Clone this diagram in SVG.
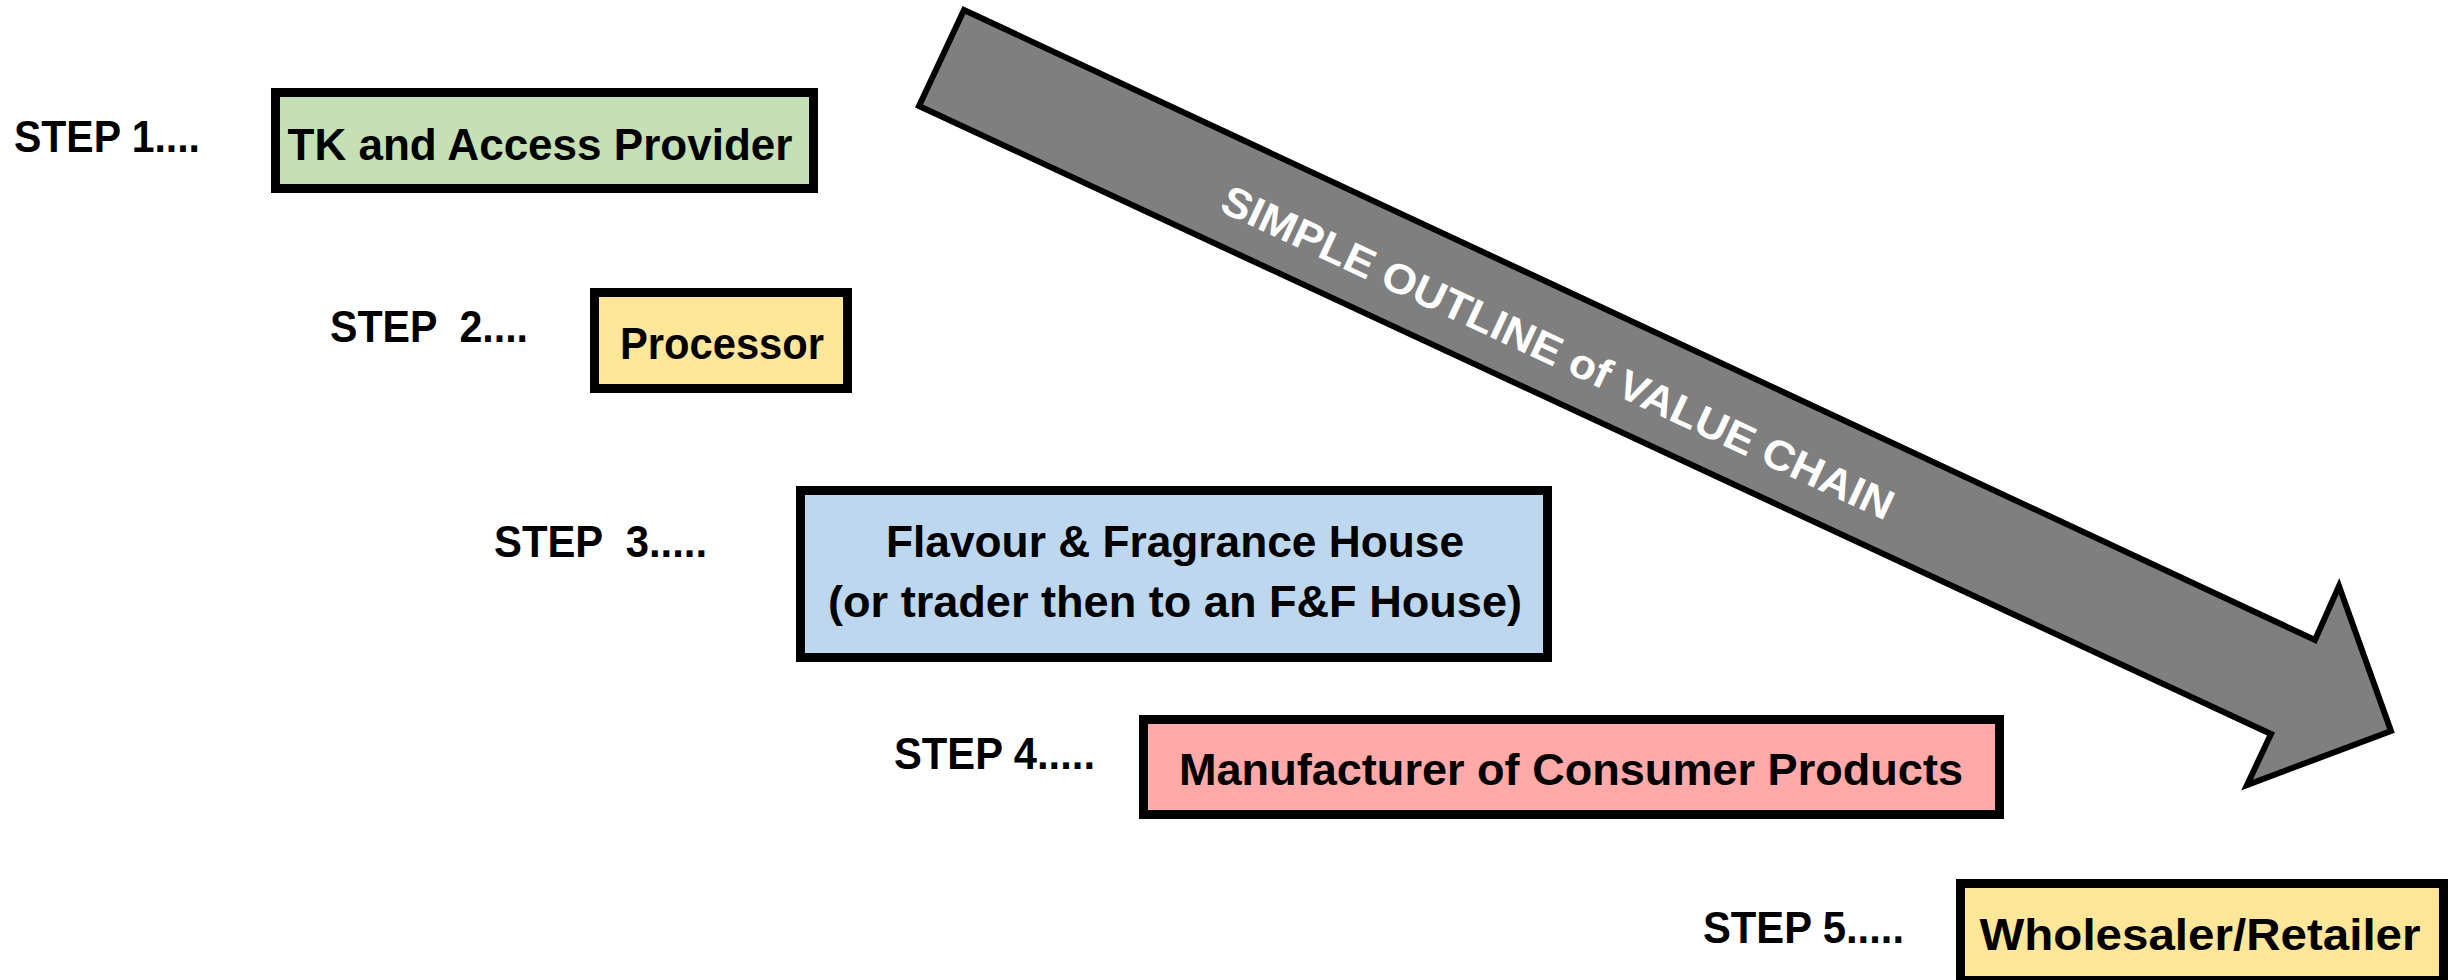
<svg xmlns="http://www.w3.org/2000/svg" width="2451" height="980" viewBox="0 0 2451 980">
  <style>
    .box { stroke: #000000; stroke-width: 9; }
    .lbl { font-family: "Liberation Sans", Arial, sans-serif; font-weight: bold; font-size: 44px; fill: #000000; }
    .step { white-space: pre; }
    .mid { text-anchor: middle; }
    .chain { font-family: "Liberation Sans", Arial, sans-serif; font-weight: bold; font-size: 42px; fill: #ffffff; text-anchor: middle; }
  </style>
  <rect x="0" y="0" width="2451" height="980" fill="#ffffff"/>

  <!-- big diagonal block arrow -->
  <g id="value-chain-arrow">
    <polygon points="964,10 2315,640 2339,586 2391,731 2247,785 2271,734 919,106" fill="#7f7f7f" stroke="#000000" stroke-width="6" stroke-linejoin="miter"/>
    <g transform="translate(1558,352) rotate(24.94)">
      <text class="chain" x="0" y="15" textLength="736" lengthAdjust="spacingAndGlyphs">SIMPLE OUTLINE of VALUE CHAIN</text>
    </g>
  </g>

  <g id="connectors"></g>

  <g id="step1">
    <text class="lbl step" x="14" y="152" textLength="186" lengthAdjust="spacingAndGlyphs">STEP 1....</text>
    <rect class="box" x="275.5" y="92.5" width="538" height="96" fill="#c5e0b4"/>
    <text class="lbl mid" x="540" y="160" textLength="505" lengthAdjust="spacingAndGlyphs">TK and Access Provider</text>
  </g>

  <g id="step2">
    <text class="lbl step" x="330" y="342" textLength="198" lengthAdjust="spacingAndGlyphs">STEP  2....</text>
    <rect class="box" x="594.5" y="292.5" width="253" height="96" fill="#ffe699"/>
    <text class="lbl mid" x="722" y="359" textLength="204" lengthAdjust="spacingAndGlyphs">Processor</text>
  </g>

  <g id="step3">
    <text class="lbl step" x="494" y="557" textLength="213" lengthAdjust="spacingAndGlyphs">STEP  3.....</text>
    <rect class="box" x="800.5" y="490.5" width="747" height="167" fill="#bdd7ee"/>
    <text class="lbl mid" x="1175" y="557" textLength="578" lengthAdjust="spacingAndGlyphs">Flavour &amp; Fragrance House</text>
    <text class="lbl mid" x="1175" y="617" textLength="694" lengthAdjust="spacingAndGlyphs">(or trader then to an F&amp;F House)</text>
  </g>

  <g id="step4">
    <text class="lbl step" x="894" y="769" textLength="201" lengthAdjust="spacingAndGlyphs">STEP 4.....</text>
    <rect class="box" x="1143.5" y="719.5" width="856" height="95" fill="#ffa9a9"/>
    <text class="lbl mid" x="1571" y="785" textLength="784" lengthAdjust="spacingAndGlyphs">Manufacturer of Consumer Products</text>
  </g>

  <g id="step5">
    <text class="lbl step" x="1703" y="943" textLength="201" lengthAdjust="spacingAndGlyphs">STEP 5.....</text>
    <rect class="box" x="1960.5" y="883.5" width="483" height="97" fill="#ffe699"/>
    <text class="lbl mid" x="2200" y="950" textLength="441" lengthAdjust="spacingAndGlyphs">Wholesaler/Retailer</text>
  </g>
</svg>
